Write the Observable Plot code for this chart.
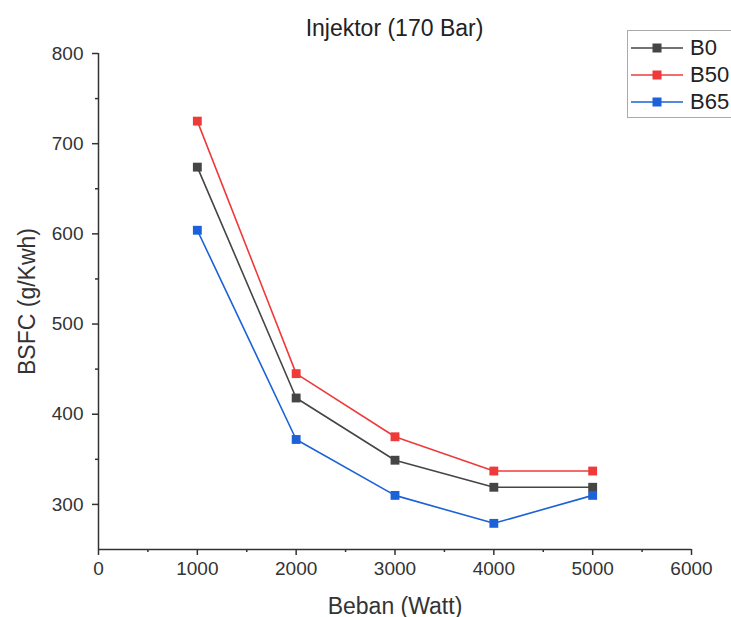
<!DOCTYPE html>
<html>
<head>
<meta charset="utf-8">
<script src="https://cdn.jsdelivr.net/npm/d3@7"></script>
<script src="https://cdn.jsdelivr.net/npm/@observablehq/plot@0.6"></script>
<style>
  html, body { margin: 0; padding: 0; background: #fff; }
  body { width: 731px; height: 617px; overflow: hidden; position: relative; font-family: "Liberation Sans", Arial, sans-serif; }
  #title { position: absolute; left: 0; top: 0; z-index: 2; height: 56px; line-height: 56px; font-size: 23px; color: #222; text-align: center; padding-left: 58px; box-sizing: border-box; width: 731px; }
  #legend { position: absolute; z-index: 2; left: 627px; top: 30px; width: 130px; height: 86px; border: 1px solid #aaa; background: #fff; }
  .item { position: absolute; left: 0; height: 26px; display: flex; align-items: center; font-size: 22px; color: #222; }
  .item svg { margin-left: 3px; margin-right: 7px; }
</style>
</head>
<body>
<div id="chart"></div>
<div id="title">Injektor (170 Bar)</div>
<div id="legend"></div>
<script>
const loads = [1000, 2000, 3000, 4000, 5000];
const seriesNames = ["B0", "B50", "B65"];
const b0 = [674, 418, 349, 319, 319];
const b50 = [725, 445, 375, 337, 337];
const b65 = [604, 372, 310, 279, 310];
const colors = ["#454545", "#ef3a3a", "#1b62d8"];
const xTicks = [0, 1000, 2000, 3000, 4000, 5000, 6000];
const xMinor = [500, 1500, 2500, 3500, 4500, 5500];
const yTicks = [300, 400, 500, 600, 700, 800];
const yMinor = [350, 450, 550, 650, 750];
const xDomain = [0, 6000];
const yDomain = [250, 800];

const valuesBySeries = [b0, b50, b65];
const data = [];
seriesNames.forEach((s, i) => loads.forEach((x, j) => data.push({series: s, load: x, bsfc: valuesBySeries[i][j]})));

const font = '"Liberation Sans", Arial, sans-serif';
const chart = Plot.plot({
  width: 731,
  height: 617,
  marginTop: 53,
  marginBottom: 68,
  marginLeft: 98,
  marginRight: 40,
  style: {fontFamily: font, fontSize: "19px", color: "#333", background: "#fff"},
  x: {domain: xDomain},
  y: {domain: yDomain},
  color: {domain: seriesNames, range: colors},
  marks: [
    Plot.axisX({ticks: xMinor, tickSize: 3, tickFormat: () => "", strokeWidth: 1.5, label: null}),
    Plot.axisX({ticks: xTicks, tickSize: 6, tickPadding: 6, strokeWidth: 1.5, fontSize: 19, fill: "#333",
      label: "Beban (Watt)", labelAnchor: "center", labelArrow: "none", labelOffset: 64, tickFormat: d => String(d)}),
    Plot.axisY({ticks: yMinor, tickSize: 3, tickFormat: () => "", strokeWidth: 1.5, label: null}),
    Plot.axisY({ticks: yTicks, tickSize: 6, tickPadding: 9, strokeWidth: 1.5, fontSize: 19, fill: "#333",
      label: "BSFC (g/Kwh)", labelAnchor: "center", labelArrow: "none", labelOffset: 80, tickFormat: d => String(d)}),
    Plot.ruleX([xDomain[0]], {stroke: "#333", strokeWidth: 1.5}),
    Plot.ruleY([yDomain[0]], {stroke: "#333", strokeWidth: 1.5}),
    Plot.line(data, {x: "load", y: "bsfc", z: "series", stroke: "series", strokeWidth: 1.6}),
    Plot.dot(data, {x: "load", y: "bsfc", fill: "series", symbol: "square", r: 5})
  ]
});
chart.querySelectorAll('g[aria-label="x-axis label"] text, g[aria-label="y-axis label"] text').forEach(t => t.setAttribute("font-size", "23px"));
document.getElementById("chart").appendChild(chart);

const legend = document.getElementById("legend");
seriesNames.forEach((s, i) => {
  const div = document.createElement("div");
  div.className = "item";
  div.style.top = (4 + i * 27) + "px";
  div.innerHTML = `<svg width="52" height="12"><line x1="0" y1="6" x2="52" y2="6" stroke="${colors[i]}" stroke-width="1.6"/><rect x="21.5" y="1.5" width="9" height="9" fill="${colors[i]}"/></svg><span>${s}</span>`;
  legend.appendChild(div);
});
</script>
</body>
</html>
